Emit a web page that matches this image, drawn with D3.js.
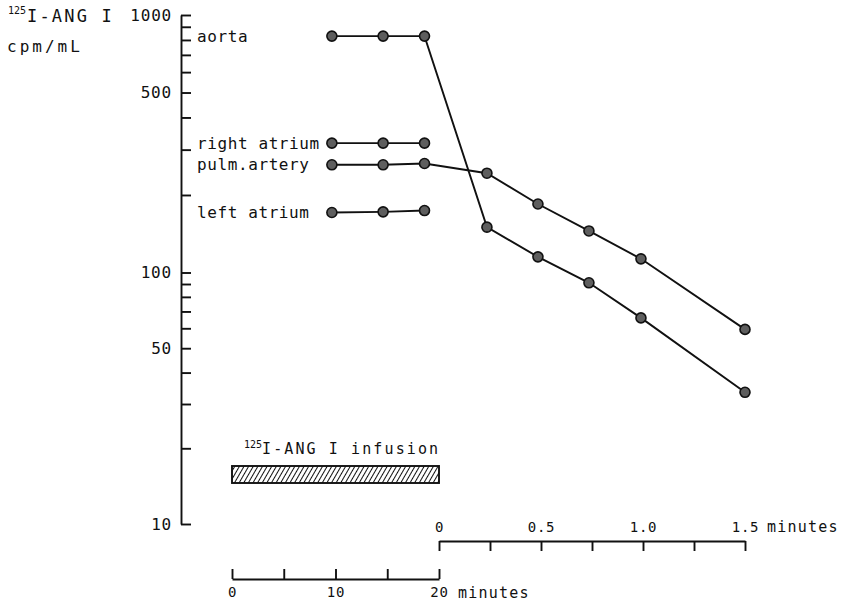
<!DOCTYPE html>
<html>
<head>
<meta charset="utf-8">
<script src="https://cdn.jsdelivr.net/npm/d3@7"></script>
<style>
  html, body { margin: 0; padding: 0; background: #fff; }
  svg { display: block; }
  text { font-family: "DejaVu Sans Mono", monospace; fill: #111; }
</style>
</head>
<body>
<div id="chart"></div>
<script>
// sampling times: during the 20 min infusion, then minutes after it stopped
const infusionMinutes = [9.65, 14.6, 18.6];
const postMinutes = [0.235, 0.485, 0.735, 0.99, 1.5];

// 125I-ANG I, cpm/mL
const aortaDuring = [828, 828, 828];
const aortaAfter = [150, 115, 91, 66, 33.4];
const rightAtriumDuring = [318, 318, 318];
const pulmArteryDuring = [262, 262, 265];
const pulmArteryAfter = [243, 184.5, 145, 113, 59.4];
const leftAtriumDuring = [171, 172, 174];

const seriesNames = ["aorta", "right atrium", "pulm.artery", "left atrium"];

// axis ticks
const yTicks = [10, 20, 30, 40, 50, 60, 70, 80, 90, 100, 200, 300, 400, 500, 600, 700, 800, 900, 1000];
const yLabels = [10, 50, 100, 500, 1000];
const infusionTicks = [0, 5, 10, 15, 20];
const infusionLabels = [0, 10, 20];
const postTicks = [0, 0.25, 0.5, 0.75, 1.0, 1.25, 1.5];
const postLabels = [0, 0.5, 1.0, 1.5];

const width = 850, height = 606;

const svg = d3.select("#chart").append("svg")
  .attr("width", width)
  .attr("height", height);

// log y, slightly uneven decades as in the scanned figure
const y = d3.scaleLog().domain([10, 100, 1000]).range([524, 272.5, 15]);
const xInf = d3.scaleLinear().domain([0, 20]).range([232, 439]);
const xPost = d3.scaleLinear().domain([0, 1.5]).range([439, 745]);

const ink = "#111";

function styleAxis(g, size) {
  g.select(".domain").attr("stroke", ink).attr("stroke-width", 1.9);
  g.selectAll(".tick line").attr("stroke", ink).attr("stroke-width", 1.9);
  g.selectAll(".tick text")
    .attr("fill", ink)
    .style("font-family", '"DejaVu Sans Mono", monospace')
    .style("font-size", size + "px")
    .style("letter-spacing", "0.8px");
}

// y axis
const yAxis = svg.append("g")
  .attr("transform", "translate(181,0)")
  .call(d3.axisLeft(y)
    .tickValues(yTicks)
    .tickSizeInner(-10)
    .tickSizeOuter(0)
    .tickPadding(9)
    .tickFormat(d => yLabels.includes(d) ? d : ""));
styleAxis(yAxis, 16);

// post-infusion time axis (upper)
const postAxis = svg.append("g")
  .attr("transform", "translate(0,541)")
  .call(d3.axisTop(xPost)
    .tickValues(postTicks)
    .tickSizeInner(-10)
    .tickSizeOuter(0)
    .tickPadding(9)
    .tickFormat(d => postLabels.includes(d) ? (d === 0 ? "0" : d.toFixed(1)) : ""));
styleAxis(postAxis, 14);
postAxis.append("text")
  .attr("x", xPost(1.5) + 22)
  .attr("y", -9)
  .attr("text-anchor", "start")
  .attr("fill", ink)
  .style("font-size", "15px")
  .style("letter-spacing", "1.2px")
  .text("minutes");

// infusion time axis (lower)
const infAxis = svg.append("g")
  .attr("transform", "translate(0,579)")
  .call(d3.axisBottom(xInf)
    .tickValues(infusionTicks)
    .tickSizeInner(-10)
    .tickSizeOuter(0)
    .tickPadding(8)
    .tickFormat(d => infusionLabels.includes(d) ? d : ""));
styleAxis(infAxis, 14);
infAxis.append("text")
  .attr("x", xInf(20) + 19)
  .attr("y", 8)
  .attr("dy", "0.71em")
  .attr("text-anchor", "start")
  .attr("fill", ink)
  .style("font-size", "15px")
  .style("letter-spacing", "1.2px")
  .text("minutes");

// y axis title
svg.append("text").attr("x", 8).attr("y", 14)
  .style("font-size", "10px").text("125");
svg.append("text").attr("x", 27).attr("y", 22)
  .style("font-size", "17px").style("letter-spacing", "2.2px").text("I-ANG I");
svg.append("text").attr("x", 7).attr("y", 52)
  .style("font-size", "16px").style("letter-spacing", "3px").text("cpm/mL");

// infusion bar
const defs = svg.append("defs");
defs.append("pattern")
  .attr("id", "hatch")
  .attr("patternUnits", "userSpaceOnUse")
  .attr("width", 4)
  .attr("height", 4)
  .attr("patternTransform", "rotate(30)")
  .append("line")
  .attr("x1", 0.5).attr("y1", 0).attr("x2", 0.5).attr("y2", 4)
  .attr("stroke", ink).attr("stroke-width", 1);

svg.append("rect")
  .attr("x", xInf(0))
  .attr("y", 466)
  .attr("width", xInf(20) - xInf(0))
  .attr("height", 17)
  .attr("fill", "url(#hatch)")
  .attr("stroke", ink)
  .attr("stroke-width", 1.9);

const infLabel = svg.append("text").attr("x", 244).attr("y", 454);
infLabel.append("tspan").attr("dy", -6).style("font-size", "10px").text("125");
infLabel.append("tspan").attr("dy", 6).style("font-size", "15px")
  .style("letter-spacing", "2.1px").text("I-ANG I infusion");

// series
const series = [
  { name: seriesNames[0], during: aortaDuring, after: aortaAfter },
  { name: seriesNames[1], during: rightAtriumDuring, after: [] },
  { name: seriesNames[2], during: pulmArteryDuring, after: pulmArteryAfter },
  { name: seriesNames[3], during: leftAtriumDuring, after: [] }
];

series.forEach(s => {
  s.points = s.during.map((v, i) => [xInf(infusionMinutes[i]), y(v)])
    .concat(s.after.map((v, i) => [xPost(postMinutes[i]), y(v)]));
});

const line = d3.line();

svg.append("g").selectAll("path")
  .data(series)
  .join("path")
  .attr("d", d => line(d.points))
  .attr("fill", "none")
  .attr("stroke", ink)
  .attr("stroke-width", 1.9);

svg.append("g").selectAll("circle")
  .data(series.flatMap(s => s.points))
  .join("circle")
  .attr("cx", d => d[0])
  .attr("cy", d => d[1])
  .attr("r", 5)
  .attr("fill", "#5e5e5e")
  .attr("stroke", ink)
  .attr("stroke-width", 1.6);

// series labels, left of the first sample
svg.append("g").selectAll("text")
  .data(series)
  .join("text")
  .attr("x", 197)
  .attr("y", d => y(d.during[0]))
  .attr("dy", "0.35em")
  .style("font-size", "16px")
  .style("letter-spacing", "0.6px")
  .text(d => d.name);
</script>
</body>
</html>
